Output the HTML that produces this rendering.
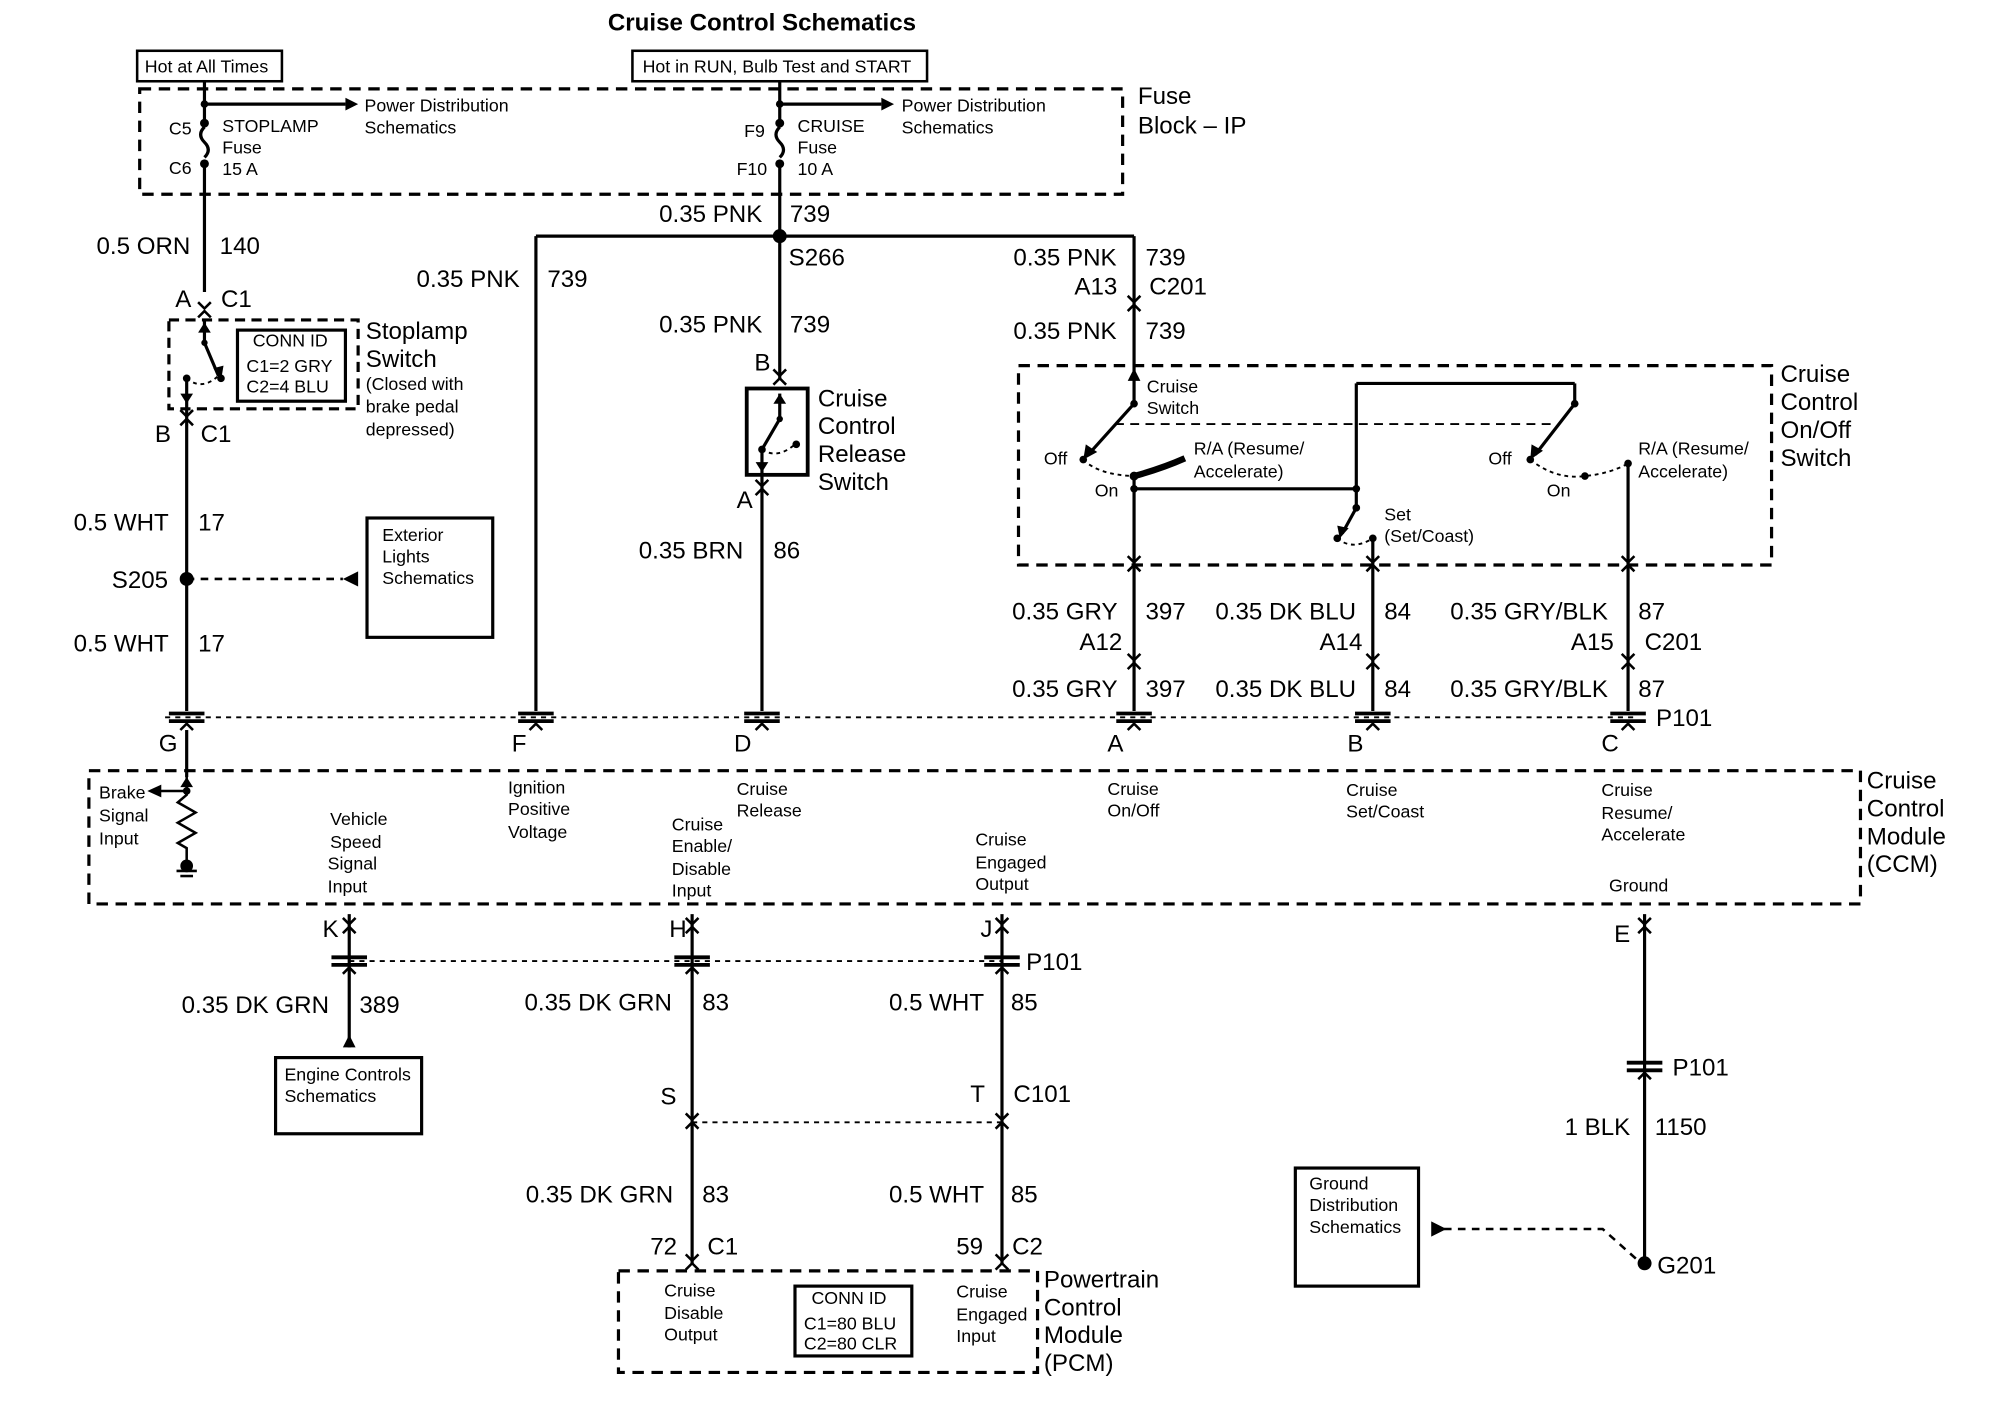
<!DOCTYPE html>
<html><head><meta charset="utf-8"><style>
html,body{margin:0;padding:0;background:#fff;}
svg{display:block;}
text{font-family:"Liberation Sans",Arial,sans-serif;fill:#000;}
.w{font-size:19px;}
.s{font-size:14px;}
.l{font-size:19px;}
</style></head><body>
<svg width="1990" height="1408" viewBox="0 0 1567 1109" preserveAspectRatio="none" xmlns="http://www.w3.org/2000/svg">
<defs>
<g id="cn"><line x1="-14" y1="-3" x2="14" y2="-3" stroke="#000" stroke-width="3"/><line x1="-14" y1="3" x2="14" y2="3" stroke="#000" stroke-width="3"/><polyline points="-5,10 0,5 5,10" fill="none" stroke="#000" stroke-width="2"/></g>
<g id="ch"><polyline points="-5,5 0,0 5,5" fill="none" stroke="#000" stroke-width="2"/><polyline points="-5,-7 0,-2 5,-7" fill="none" stroke="#000" stroke-width="2"/></g>
</defs>
<g stroke="#000" stroke-width="2.5" fill="none">
<rect x="108" y="40" width="114" height="24" stroke-width="2"/>
<rect x="498" y="40" width="232" height="24" stroke-width="2"/>
<rect x="110" y="70" width="774" height="83" stroke-dasharray="9,6"/>
<line x1="161" y1="64" x2="161" y2="96"/>
<line x1="161" y1="82" x2="272" y2="82"/>
<path d="M161 100 q-6 6 0 12 q6 6 0 12" />
<line x1="161" y1="130" x2="161" y2="230"/>
<line x1="614" y1="64" x2="614" y2="96"/>
<line x1="614" y1="82" x2="694" y2="82"/>
<path d="M614 100 q-6 6 0 12 q6 6 0 12" />
<line x1="614" y1="130" x2="614" y2="186"/>
<line x1="422" y1="186" x2="893" y2="186"/>
<line x1="422" y1="186" x2="422" y2="560"/>
<line x1="614" y1="186" x2="614" y2="298"/>
<line x1="893" y1="186" x2="893" y2="318"/>
<rect x="133" y="252" width="149" height="70" stroke-dasharray="8,5"/>
<line x1="161" y1="252" x2="161" y2="270"/>
<line x1="161" y1="270" x2="172" y2="296"/>
<path d="M147 298 q12 10 25 -2" stroke-dasharray="3,3" stroke-width="1.5"/>
<line x1="147" y1="298" x2="147" y2="560"/>
<rect x="187" y="260" width="85" height="56" stroke-width="2.5"/>
<line x1="147" y1="456" x2="270" y2="456" stroke-dasharray="6,5" stroke-width="2"/>
<rect x="289" y="408" width="99" height="94" stroke-width="2.5"/>
<rect x="588" y="306" width="48" height="68" stroke-width="3"/>
<line x1="614" y1="310" x2="614" y2="330"/>
<line x1="614" y1="330" x2="600" y2="354"/>
<path d="M600 354 q12 8 26 -4" stroke-dasharray="3,3" stroke-width="1.5"/>
<line x1="600" y1="354" x2="600" y2="560"/>
<rect x="802" y="288" width="593" height="157" stroke-dasharray="9,6"/>
<line x1="893" y1="318" x2="857" y2="358"/>
<line x1="878" y1="334" x2="1225" y2="334" stroke-dasharray="7,5" stroke-width="1.5"/>
<path d="M893 375 q22 -6 40 -14" stroke-width="5"/>
<path d="M853 362 q12 12 40 13" stroke-dasharray="3,3" stroke-width="1.5"/>
<line x1="893" y1="372" x2="893" y2="560"/>
<line x1="893" y1="385" x2="1068" y2="385"/>
<line x1="1068" y1="302" x2="1068" y2="400"/>
<line x1="1068" y1="302" x2="1240" y2="302"/>
<line x1="1240" y1="302" x2="1240" y2="318"/>
<line x1="1068" y1="400" x2="1057" y2="420"/>
<path d="M1053 424 q12 10 28 0" stroke-dasharray="3,3" stroke-width="1.5"/>
<line x1="1081" y1="424" x2="1081" y2="560"/>
<line x1="1240" y1="318" x2="1209" y2="358"/>
<path d="M1205 362 q20 16 43 13 q20 -2 34 -10" stroke-dasharray="3,3" stroke-width="1.5"/>
<line x1="1282" y1="364" x2="1282" y2="560"/>
<line x1="130" y1="565" x2="1290" y2="565" stroke-dasharray="4,4" stroke-width="1.5"/>
<rect x="70" y="607" width="1395" height="105" stroke-dasharray="9,6"/>
<line x1="147" y1="575" x2="147" y2="612"/>
<polyline points="147,610 147,626 140,632 154,640 140,648 154,656 140,664 147,668 147,678" stroke-width="2"/>
<line x1="139" y1="686" x2="155" y2="686" stroke-width="2"/><line x1="142" y1="690" x2="152" y2="690" stroke-width="2"/>
<line x1="126" y1="623" x2="147" y2="623" stroke-width="2"/>
<line x1="275" y1="720" x2="275" y2="825"/>
<line x1="545" y1="720" x2="545" y2="995"/>
<line x1="789" y1="720" x2="789" y2="995"/>
<line x1="275" y1="757" x2="789" y2="757" stroke-dasharray="4,4" stroke-width="1.5"/>
<line x1="545" y1="884" x2="789" y2="884" stroke-dasharray="4,4" stroke-width="1.5"/>
<rect x="217" y="833" width="115" height="60" stroke-width="2.5"/>
<rect x="487" y="1001" width="330" height="80" stroke-dasharray="9,6"/>
<rect x="626" y="1013" width="92" height="55" stroke-width="2.5"/>
<line x1="1295" y1="720" x2="1295" y2="995"/>
<rect x="1020" y="920" width="97" height="93" stroke-width="2.5"/>
<polyline points="1137,968 1262,968 1290,993" stroke-dasharray="6,5" stroke-width="2"/>
</g>
<g fill="#000">
<polygon points="272,77 282,82 272,87"/>
<polygon points="694,77 704,82 694,87"/>
<circle cx="161" cy="82" r="3"/><circle cx="614" cy="82" r="3"/>
<circle cx="161" cy="97" r="3.5"/><circle cx="161" cy="129" r="3.5"/>
<circle cx="614" cy="97" r="3.5"/><circle cx="614" cy="129" r="3.5"/>
<circle cx="614" cy="186" r="5.5"/>
<circle cx="147" cy="456" r="5.5"/>
<polygon points="282,450 270,456 282,462"/>
<circle cx="161" cy="270" r="2.5"/><circle cx="174" cy="298" r="3"/><circle cx="147" cy="298" r="3"/>
<polygon points="168,290 174,300 176,288"/>
<polygon points="156,262 161,254 166,262"/>
<polygon points="142,310 147,318 152,310"/>
<circle cx="614" cy="330" r="2.5"/><circle cx="600" cy="354" r="3"/><circle cx="627" cy="350" r="3"/>
<polygon points="609,318 614,310 619,318"/>
<polygon points="595,364 600,372 605,364"/>
<circle cx="893" cy="318" r="3"/><circle cx="853" cy="362" r="3"/><circle cx="893" cy="375" r="3.5"/><circle cx="893" cy="385" r="3"/>
<polygon points="855,350 853,362 864,356"/>
<polygon points="888,300 893,290 898,300"/>
<circle cx="1240" cy="318" r="3"/><circle cx="1205" cy="362" r="3"/><circle cx="1248" cy="375" r="3"/><circle cx="1282" cy="365" r="3"/>
<polygon points="1206,350 1205,362 1215,355"/>
<circle cx="1068" cy="385" r="3"/><circle cx="1068" cy="400" r="3"/><circle cx="1053" cy="424" r="3"/><circle cx="1081" cy="424" r="3"/>
<polygon points="1053,414 1055,424 1062,416"/>
<circle cx="147" cy="623" r="3"/>
<polygon points="116,623 127,618 127,628"/>
<polygon points="142,620 147,612 152,620"/>
<circle cx="147" cy="682" r="5"/>
<polygon points="270,825 275,815 280,825"/>
<polygon points="1127,962 1139,968 1127,974"/>
<circle cx="1295" cy="995" r="5.5"/>
</g>
<g>
<use href="#ch" x="161" y="245"/>
<use href="#ch" x="147" y="330"/>
<use href="#ch" x="614" y="298"/>
<use href="#ch" x="600" y="385"/>
<use href="#ch" x="893" y="240"/>
<use href="#ch" x="893" y="445"/>
<use href="#ch" x="1081" y="445"/>
<use href="#ch" x="1282" y="445"/>
<use href="#ch" x="893" y="522"/>
<use href="#ch" x="1081" y="522"/>
<use href="#ch" x="1282" y="522"/>
<use href="#cn" x="147" y="565"/><use href="#cn" x="422" y="565"/><use href="#cn" x="600" y="565"/>
<use href="#cn" x="893" y="565"/><use href="#cn" x="1081" y="565"/><use href="#cn" x="1282" y="565"/>
<use href="#cn" x="275" y="757"/><use href="#cn" x="545" y="757"/><use href="#cn" x="789" y="757"/>
<use href="#ch" x="1295" y="730"/>
<use href="#cn" x="1295" y="840"/>
<use href="#ch" x="545" y="884"/><use href="#ch" x="789" y="884"/>
<use href="#ch" x="545" y="995"/><use href="#ch" x="789" y="995"/>
<use href="#ch" x="275" y="730"/><use href="#ch" x="545" y="730"/><use href="#ch" x="789" y="730"/>
</g>
<text x="600" y="24" text-anchor="middle" font-size="19" font-weight="bold">Cruise Control Schematics</text>
<text class="s" x="114" y="57">Hot at All Times</text>
<text class="s" x="506" y="57">Hot in RUN, Bulb Test and START</text>
<text class="s" x="287" y="88">Power Distribution</text><text class="s" x="287" y="105">Schematics</text>
<text class="s" x="710" y="88">Power Distribution</text><text class="s" x="710" y="105">Schematics</text>
<text class="l" x="896" y="82">Fuse</text><text class="l" x="896" y="105">Block – IP</text>
<text class="s" x="133" y="106">C5</text><text class="s" x="133" y="137">C6</text>
<text class="s" x="175" y="104">STOPLAMP</text><text class="s" x="175" y="121">Fuse</text><text class="s" x="175" y="138">15 A</text>
<text class="s" x="586" y="108">F9</text><text class="s" x="580" y="138">F10</text>
<text class="s" x="628" y="104">CRUISE</text><text class="s" x="628" y="121">Fuse</text><text class="s" x="628" y="138">10 A</text>
<text class="w" x="519" y="175">0.35 PNK</text><text class="w" x="622" y="175">739</text>
<text class="w" x="76" y="200">0.5 ORN</text><text class="w" x="173" y="200">140</text>
<text class="w" x="138" y="242">A</text><text class="w" x="174" y="242">C1</text>
<text class="w" x="328" y="226">0.35 PNK</text><text class="w" x="431" y="226">739</text>
<text class="w" x="621" y="209">S266</text>
<text class="w" x="519" y="262">0.35 PNK</text><text class="w" x="622" y="262">739</text>
<text class="w" x="798" y="209">0.35 PNK</text><text class="w" x="902" y="209">739</text>
<text class="w" x="846" y="232">A13</text><text class="w" x="905" y="232">C201</text>
<text class="w" x="798" y="267">0.35 PNK</text><text class="w" x="902" y="267">739</text>
<text class="s" x="199" y="273">CONN ID</text><text class="s" x="194" y="293">C1=2 GRY</text><text class="s" x="194" y="309">C2=4 BLU</text>
<text class="l" x="288" y="267">Stoplamp</text><text class="l" x="288" y="289">Switch</text>
<text class="s" x="288" y="307">(Closed with</text><text class="s" x="288" y="325">brake pedal</text><text class="s" x="288" y="343">depressed)</text>
<text class="w" x="122" y="348">B</text><text class="w" x="158" y="348">C1</text>
<text class="w" x="594" y="292">B</text><text class="w" x="580" y="400">A</text>
<text class="l" x="644" y="320">Cruise</text><text class="l" x="644" y="342">Control</text><text class="l" x="644" y="364">Release</text><text class="l" x="644" y="386">Switch</text>
<text class="w" x="503" y="440">0.35 BRN</text><text class="w" x="609" y="440">86</text>
<text class="w" x="58" y="418">0.5 WHT</text><text class="w" x="156" y="418">17</text>
<text class="w" x="88" y="463">S205</text>
<text class="w" x="58" y="513">0.5 WHT</text><text class="w" x="156" y="513">17</text>
<text class="s" x="301" y="426">Exterior</text><text class="s" x="301" y="443">Lights</text><text class="s" x="301" y="460">Schematics</text>
<text class="l" x="1402" y="301">Cruise</text><text class="l" x="1402" y="323">Control</text><text class="l" x="1402" y="345">On/Off</text><text class="l" x="1402" y="367">Switch</text>
<text class="s" x="903" y="309">Cruise</text><text class="s" x="903" y="326">Switch</text>
<text class="s" x="822" y="366">Off</text><text class="s" x="862" y="391">On</text>
<text class="s" x="940" y="358">R/A (Resume/</text><text class="s" x="940" y="376">Accelerate)</text>
<text class="s" x="1172" y="366">Off</text><text class="s" x="1218" y="391">On</text>
<text class="s" x="1290" y="358">R/A (Resume/</text><text class="s" x="1290" y="376">Accelerate)</text>
<text class="s" x="1090" y="410">Set</text><text class="s" x="1090" y="427">(Set/Coast)</text>
<text class="w" x="797" y="488">0.35 GRY</text><text class="w" x="902" y="488">397</text>
<text class="w" x="957" y="488">0.35 DK BLU</text><text class="w" x="1090" y="488">84</text>
<text class="w" x="1142" y="488">0.35 GRY/BLK</text><text class="w" x="1290" y="488">87</text>
<text class="w" x="850" y="512">A12</text><text class="w" x="1039" y="512">A14</text><text class="w" x="1237" y="512">A15</text><text class="w" x="1295" y="512">C201</text>
<text class="w" x="797" y="549">0.35 GRY</text><text class="w" x="902" y="549">397</text>
<text class="w" x="957" y="549">0.35 DK BLU</text><text class="w" x="1090" y="549">84</text>
<text class="w" x="1142" y="549">0.35 GRY/BLK</text><text class="w" x="1290" y="549">87</text>
<text class="w" x="1304" y="572">P101</text>
<text class="w" x="125" y="592">G</text><text class="w" x="403" y="592">F</text><text class="w" x="578" y="592">D</text>
<text class="w" x="872" y="592">A</text><text class="w" x="1061" y="592">B</text><text class="w" x="1261" y="592">C</text>
<text class="l" x="1470" y="621">Cruise</text><text class="l" x="1470" y="643">Control</text><text class="l" x="1470" y="665">Module</text><text class="l" x="1470" y="687">(CCM)</text>
<text class="s" x="78" y="629">Brake</text><text class="s" x="78" y="647">Signal</text><text class="s" x="78" y="665">Input</text>
<text class="s" x="260" y="650">Vehicle</text><text class="s" x="260" y="668">Speed</text><text class="s" x="258" y="685">Signal</text><text class="s" x="258" y="703">Input</text>
<text class="s" x="400" y="625">Ignition</text><text class="s" x="400" y="642">Positive</text><text class="s" x="400" y="660">Voltage</text>
<text class="s" x="580" y="626">Cruise</text><text class="s" x="580" y="643">Release</text>
<text class="s" x="529" y="654">Cruise</text><text class="s" x="529" y="671">Enable/</text><text class="s" x="529" y="689">Disable</text><text class="s" x="529" y="706">Input</text>
<text class="s" x="768" y="666">Cruise</text><text class="s" x="768" y="684">Engaged</text><text class="s" x="768" y="701">Output</text>
<text class="s" x="872" y="626">Cruise</text><text class="s" x="872" y="643">On/Off</text>
<text class="s" x="1060" y="627">Cruise</text><text class="s" x="1060" y="644">Set/Coast</text>
<text class="s" x="1261" y="627">Cruise</text><text class="s" x="1261" y="645">Resume/</text><text class="s" x="1261" y="662">Accelerate</text>
<text class="s" x="1267" y="702">Ground</text>
<text class="w" x="254" y="738">K</text><text class="w" x="527" y="738">H</text><text class="w" x="772" y="738">J</text><text class="w" x="1271" y="742">E</text>
<text class="w" x="808" y="764">P101</text>
<text class="w" x="143" y="798">0.35 DK GRN</text><text class="w" x="283" y="798">389</text>
<text class="w" x="413" y="796">0.35 DK GRN</text><text class="w" x="553" y="796">83</text>
<text class="w" x="700" y="796">0.5 WHT</text><text class="w" x="796" y="796">85</text>
<text class="s" x="224" y="851">Engine Controls</text><text class="s" x="224" y="868">Schematics</text>
<text class="w" x="520" y="870">S</text><text class="w" x="764" y="868">T</text><text class="w" x="798" y="868">C101</text>
<text class="w" x="414" y="947">0.35 DK GRN</text><text class="w" x="553" y="947">83</text>
<text class="w" x="700" y="947">0.5 WHT</text><text class="w" x="796" y="947">85</text>
<text class="w" x="512" y="988">72</text><text class="w" x="557" y="988">C1</text>
<text class="w" x="753" y="988">59</text><text class="w" x="797" y="988">C2</text>
<text class="l" x="822" y="1014">Powertrain</text><text class="l" x="822" y="1036">Control</text><text class="l" x="822" y="1058">Module</text><text class="l" x="822" y="1080">(PCM)</text>
<text class="s" x="523" y="1021">Cruise</text><text class="s" x="523" y="1039">Disable</text><text class="s" x="523" y="1056">Output</text>
<text class="s" x="639" y="1027">CONN ID</text><text class="s" x="633" y="1047">C1=80 BLU</text><text class="s" x="633" y="1063">C2=80 CLR</text>
<text class="s" x="753" y="1022">Cruise</text><text class="s" x="753" y="1040">Engaged</text><text class="s" x="753" y="1057">Input</text>
<text class="w" x="1317" y="847">P101</text>
<text class="w" x="1232" y="894">1 BLK</text><text class="w" x="1303" y="894">1150</text>
<text class="s" x="1031" y="937">Ground</text><text class="s" x="1031" y="954">Distribution</text><text class="s" x="1031" y="971">Schematics</text>
<text class="w" x="1305" y="1003">G201</text>
</svg>
</body></html>
